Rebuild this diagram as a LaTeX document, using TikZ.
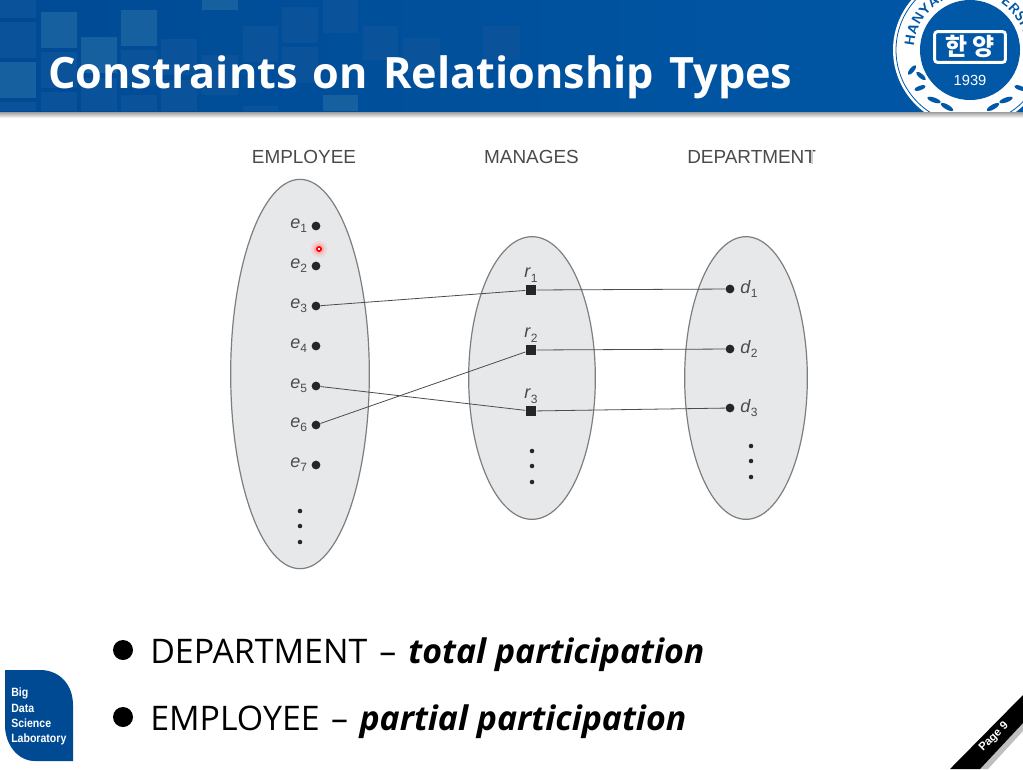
\documentclass[tikz,border=0pt]{standalone}
\usepackage{fontspec}
\usepackage{xcolor}
\usetikzlibrary{shapes.geometric, positioning, calc, decorations.text}
\setmainfont{Liberation Sans}
\newfontfamily\titlefont{Open Sans}
\newfontfamily\korfont{Noto Sans CJK KR}
\newfontfamily\labfont[FakeStretch=0.88]{Liberation Sans}
\definecolor{bannerblue}{HTML}{004A94}
\definecolor{bannerright}{HTML}{0058A6}
\definecolor{tilelight}{HTML}{17609F}
\definecolor{tiledark}{HTML}{0A5299}
\definecolor{setgray}{HTML}{E7E8E9}
\definecolor{setline}{HTML}{7C7E80}
\definecolor{inkgray}{HTML}{4A4A4C}
\newcommand{\itemsub}[2]{\textit{#1}\raisebox{-0.45ex}{\small #2}}
\tikzset{
  setnode/.style={draw=setline, fill=setgray, ellipse, inner sep=0pt, line width=0.9pt},
  dotnode/.style={circle, fill=black!85, inner sep=0pt, minimum size=6.6pt},
  boxnode/.style={rectangle, fill=black!85, inner sep=0pt, minimum size=8pt},
  smalldot/.style={circle, fill=black!85, inner sep=0pt, minimum size=3.4pt},
  conn/.style={draw=black!70, line width=0.6pt},
  setlabel/.style={text=inkgray, font=\fontsize{14.2}{16}\selectfont, inner sep=0pt, anchor=base},
  itemlabel/.style={text=inkgray, font=\fontsize{13.5}{15}\selectfont, inner sep=0pt},
  bulletnode/.style={circle, fill=black, inner sep=0pt, minimum size=15pt},
  bullettext/.style={anchor=base west, inner sep=0pt, font=\titlefont\fontsize{25.4}{28}\selectfont},
  tile/.style={fill=tilelight},
  tiled/.style={fill=tiledark},
  leaf/.style={fill=bannerright},
  labtext/.style={anchor=west, inner sep=0pt, text=white, font=\labfont\bfseries\fontsize{9}{10}\selectfont}
}
\begin{document}
\begin{tikzpicture}[x=0.75pt, y=-0.75pt]
\useasboundingbox (0,0) rectangle (1023,769);
\fill[white] (0,0) rectangle (1023,769);

% banner
\shade[top color=black!45, bottom color=white] (0,111) rectangle (1023,118);
\shade[left color=bannerblue, right color=bannerright] (0,0) rectangle (1023,111);
\fill[tiled] (0,0) rectangle (36,18);
\fill[tiled] (0,22) rectangle (36,58);
\fill[tile] (0,62) rectangle (36,98);
\fill[tiled] (0,102) rectangle (36,111);
\fill[tile] (41,12) rectangle (77,48);
\fill[tiled] (41,52) rectangle (77,88);
\fill[tiled] (41,92) rectangle (77,111);
\fill[tile] (81,37) rectangle (117,73);
\fill[tiled] (81,78) rectangle (117,111);
\fill[tile] (121,10) rectangle (157,46);
\fill[tiled] (121,50) rectangle (157,86);
\fill[tiled] (121,95) rectangle (157,111);
\fill[tiled] (161,39) rectangle (197,75);
\fill[tiled] (161,80) rectangle (197,111);
\fill[tile] (202,0) rectangle (238,10);
\fill[tiled] (202,55) rectangle (238,95);
\fill[tiled] (243,26) rectangle (278,62);
\fill[tiled] (243,106) rectangle (278,111);
\fill[tiled] (282,7) rectangle (318,43);
\fill[tiled] (282,47) rectangle (318,83);
\fill[tiled] (323,0) rectangle (358,33);
\fill[tile] (323,95) rectangle (358,111);
\fill[tiled] (363,26) rectangle (398,60);
\fill[tiled] (403,38) rectangle (440,72);
\fill[tiled] (483,26) rectangle (520,60);
\node[anchor=base west, inner sep=0pt, text=white, font=\titlefont\bfseries\fontsize{32.4}{38}\selectfont] (title) at (48,88) {Constraints\hspace{3pt} on\hspace{3pt} Relationship\hspace{3pt} Types};

% university seal
\begin{scope}
\clip (0,0) rectangle (1023,111);
\fill[white] (970,50) circle (77);
\draw[bannerright, line width=0.6pt] (970,50) circle (74);
\fill[bannerright] (970,50) circle (50);
\path[decorate, decoration={text along path, text align=center, text={|\sffamily\bfseries\fontsize{10.5}{12}\selectfont\color{bannerright}|HANYANG UNIVERSITY}}] (914,50) arc[start angle=180, end angle=360, radius=56];
\fill[leaf, rotate around={50:(912,70)}] (912,70) ellipse (6 and 2.2);
\fill[leaf, rotate around={-40:(921,76)}] (921,76) ellipse (6 and 2.2);
\fill[leaf, rotate around={20:(920,88)}] (920,88) ellipse (6 and 2.2);
\fill[leaf, rotate around={-20:(934,100)}] (934,100) ellipse (7 and 2.4);
\fill[leaf, rotate around={-30:(947,107)}] (947,107) ellipse (7 and 2.4);
\fill[leaf, rotate around={30:(993,107)}] (993,107) ellipse (7 and 2.4);
\fill[leaf, rotate around={20:(1006,100)}] (1006,100) ellipse (7 and 2.4);
\fill[leaf, rotate around={-20:(1020,88)}] (1020,88) ellipse (6 and 2.2);
\end{scope}
\node[draw=white, line width=2.2pt, fill=bannerright, rounded corners=2pt, minimum width=53pt, minimum height=23pt, inner sep=0pt, text=white, font=\korfont\bfseries\fontsize{18}{19}\selectfont] (sealname) at (970,47) {한 양};
\node[text=white, inner sep=0pt, font=\fontsize{11}{12}\selectfont] (sealyear) at (970,80) {1939};

% sets
\node[setnode, minimum width=104pt, minimum height=292pt] (employee) at (300,374) {};
\node[setnode, minimum width=95pt, minimum height=212pt] (manages) at (532,378) {};
\node[setnode, minimum width=92pt, minimum height=212pt] (department) at (746,378) {};
\node[setlabel] (employeelabel) at (304,163) {EMPLOYEE};
\node[setlabel] (manageslabel) at (531.5,163) {MANAGES};
\node[setlabel, anchor=base west] (departmentlabel) at (687,163) {DEPARTMENT};
\fill[cyan!25!black!25] (811,150) rectangle (813,164);

% employee items
\node[dotnode] (e1) at (316,226) {};
\node[dotnode] (e2) at (316,266) {};
\node[dotnode] (e3) at (316,306) {};
\node[dotnode] (e4) at (316,346) {};
\node[dotnode] (e5) at (316,386) {};
\node[dotnode] (e6) at (316,425) {};
\node[dotnode] (e7) at (316,465) {};
\node[itemlabel, left=3pt of e1] (e1label) {\itemsub{e}{1}};
\node[itemlabel, left=3pt of e2] (e2label) {\itemsub{e}{2}};
\node[itemlabel, left=3pt of e3] (e3label) {\itemsub{e}{3}};
\node[itemlabel, left=3pt of e4] (e4label) {\itemsub{e}{4}};
\node[itemlabel, left=3pt of e5] (e5label) {\itemsub{e}{5}};
\node[itemlabel, left=3pt of e6] (e6label) {\itemsub{e}{6}};
\node[itemlabel, left=3pt of e7] (e7label) {\itemsub{e}{7}};
\node[smalldot] (edot1) at (300,511) {};
\node[smalldot] (edot2) at (300,526) {};
\node[smalldot] (edot3) at (300,542) {};

% relationship items
\node[boxnode] (r1) at (531,290) {};
\node[boxnode] (r2) at (531,350) {};
\node[boxnode] (r3) at (531,411) {};
\node[itemlabel, above=1.5pt of r1] (r1label) {\itemsub{r}{1}};
\node[itemlabel, above=1.5pt of r2] (r2label) {\itemsub{r}{2}};
\node[itemlabel, above=1.5pt of r3] (r3label) {\itemsub{r}{3}};
\node[smalldot] (rdot1) at (532,451) {};
\node[smalldot] (rdot2) at (532,466) {};
\node[smalldot] (rdot3) at (532,482) {};

% department items
\node[dotnode] (d1) at (730,289) {};
\node[dotnode] (d2) at (730,349) {};
\node[dotnode] (d3) at (730,408) {};
\node[itemlabel, right=4pt of d1] (d1label) {\itemsub{d}{1}};
\node[itemlabel, right=4pt of d2] (d2label) {\itemsub{d}{2}};
\node[itemlabel, right=4pt of d3] (d3label) {\itemsub{d}{3}};
\node[smalldot] (ddot1) at (751,446) {};
\node[smalldot] (ddot2) at (751,461) {};
\node[smalldot] (ddot3) at (751,477) {};

% connections
\draw[conn] (e3) -- (r1);
\draw[conn] (e5) -- (r3);
\draw[conn] (e6) -- (r2);
\draw[conn] (r1) -- (d1);
\draw[conn] (r2) -- (d2);
\draw[conn] (r3) -- (d3);

% pointer
\fill[red!30, opacity=0.35] (319,249) circle (8);
\fill[red!40, opacity=0.5] (319,249) circle (5.5);
\draw[red, line width=1.2pt, fill=white] (319,249) circle (2.2);

% bullets
\node[bulletnode] (bullet1) at (123,650) {};
\node[bulletnode] (bullet2) at (123,717) {};
\node[bullettext] (text1) at (150,663) {DEPARTMENT\hspace{2.5pt} – \hspace{2.5pt}\textbf{\textit{total participation}}};
\node[bullettext] (text2) at (150,730) {EMPLOYEE\hspace{2pt} – \hspace{2pt}\textbf{\textit{partial participation}}};

% lab logo
\fill[bannerblue] (5,670) -- (40,670) .. controls (60,670) and (73,685) .. (73,705) -- (73,761) -- (35,761) .. controls (18,761) and (5,745) .. (5,725) -- cycle;
\node[labtext] (lab1) at (11,693) {Big};
\node[labtext] (lab2) at (11,708) {Data};
\node[labtext] (lab3) at (11,723) {Science};
\node[labtext] (lab4) at (11,739) {Laboratory};

% page corner
\fill[black!25] (980,769) -- (1023,723) -- (1023,731) -- (988,769) -- cycle;
\fill[black] (950,769) -- (1023,695) -- (1023,723) -- (980,769) -- cycle;
\node[rotate=45, text=white, inner sep=0pt, font=\bfseries\fontsize{8.5}{10}\selectfont] (pagenum) at (994,737) {Page 9};
\end{tikzpicture}
\end{document}
